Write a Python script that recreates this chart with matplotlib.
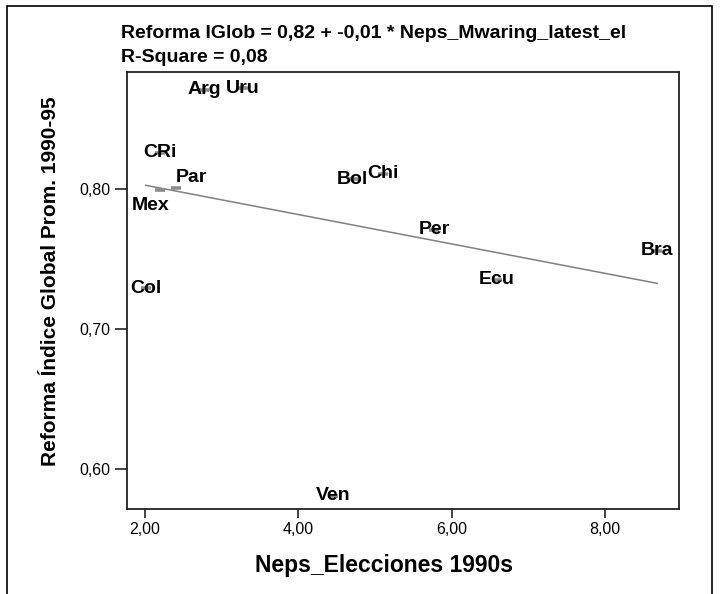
import numpy as np
import matplotlib
matplotlib.use("Agg")
import matplotlib.pyplot as plt
from matplotlib.patches import Rectangle

plt.rcParams['font.family'] = ['Liberation Sans', 'DejaVu Sans']

countries = ["Arg", "Uru", "CRi", "Par", "Mex", "Col", "Bol", "Chi", "Per", "Ecu", "Bra", "Ven"]
neps = [2.77, 3.28, 2.20, 2.40, 2.20, 2.01, 4.71, 5.10, 5.77, 6.59, 8.68, 4.45]
reforma = [0.871, 0.872, 0.826, 0.8005, 0.799, 0.729, 0.807, 0.811, 0.771, 0.735, 0.756, 0.581]
# label offsets (points) for labels placed beside their markers
label_dx = [0, 0, 0, 11, -7, 0, 0, 0, 0, 0, 0, 0]
label_dy = [0, 0, 0, 8, -11, 0, 0, 0, 0, 0, 0, 0]

x_ticks = [2, 4, 6, 8]
x_tick_labels = ["2,00", "4,00", "6,00", "8,00"]
y_ticks = [0.6, 0.7, 0.8]
y_tick_labels = ["0,60", "0,70", "0,80"]

x = np.array(neps)
y = np.array(reforma)
slope, intercept = np.polyfit(x, y, 1)
r2 = np.corrcoef(x, y)[0, 1] ** 2

fig = plt.figure(figsize=(7.2, 5.94), dpi=100)
ax = fig.add_axes([0.1764, 0.1431, 0.943 - 0.1764, 0.8788 - 0.1431])

ax.plot(x, y, linestyle='none', marker='_', markersize=7, markeredgewidth=2.6,
        color='#8c8c8c', zorder=2)
xs = np.array([x.min(), x.max()])
ax.plot(xs, intercept + slope * xs, color='#808080', lw=1.1, zorder=1)

for name, xi, yi, dx, dy in zip(countries, neps, reforma, label_dx, label_dy):
    ax.annotate(name, (xi, yi), xytext=(dx, dy), textcoords='offset points',
                ha='center', va='center', fontsize=14, fontweight='bold',
                color='black', zorder=3)

ax.set_xlim(1.765, 8.965)
ax.set_ylim(0.5714, 0.8836)
ax.set_xticks(x_ticks)
ax.set_xticklabels(x_tick_labels)
ax.set_yticks(y_ticks)
ax.set_yticklabels(y_tick_labels)
ax.tick_params(axis='both', labelsize=11.5, direction='out', width=1.2, color='#222222')
ax.tick_params(axis='x', length=6.5, pad=3)
ax.tick_params(axis='y', length=9, pad=3)
for s in ax.spines.values():
    s.set_linewidth(1.3)
    s.set_color('#222222')

ax.set_xlabel("Neps_Elecciones 1990s", fontsize=16.5, fontweight='bold')
ax.xaxis.set_label_coords((384 - 127) / 552, -(566 - 509) / 437)
ax.xaxis.label.set_va('center')
ax.set_ylabel("Reforma Índice Global Prom. 1990-95", fontsize=15, fontweight='bold')
ax.yaxis.set_label_coords(-(127 - 50) / 552, (509 - 281) / 437)
ax.yaxis.label.set_va('center')

fig.text(121 / 720, 1 - 33 / 594,
         "Reforma IGlob = %s + %s * Neps_Mwaring_latest_el"
         % (f"{intercept:.2f}".replace('.', ','), f"{slope:.2f}".replace('.', ',')),
         ha='left', va='center', fontsize=14, fontweight='bold')
fig.text(121 / 720, 1 - 57 / 594, "R-Square = %s" % f"{r2:.2f}".replace('.', ','),
         ha='left', va='center', fontsize=14, fontweight='bold')

fig.patches.append(Rectangle((7 / 720, -0.05), 705 / 720, 1.05 - 6 / 594,
                             transform=fig.transFigure, fill=False,
                             edgecolor='black', lw=1.2))

fig.savefig("out.png", dpi=100)
